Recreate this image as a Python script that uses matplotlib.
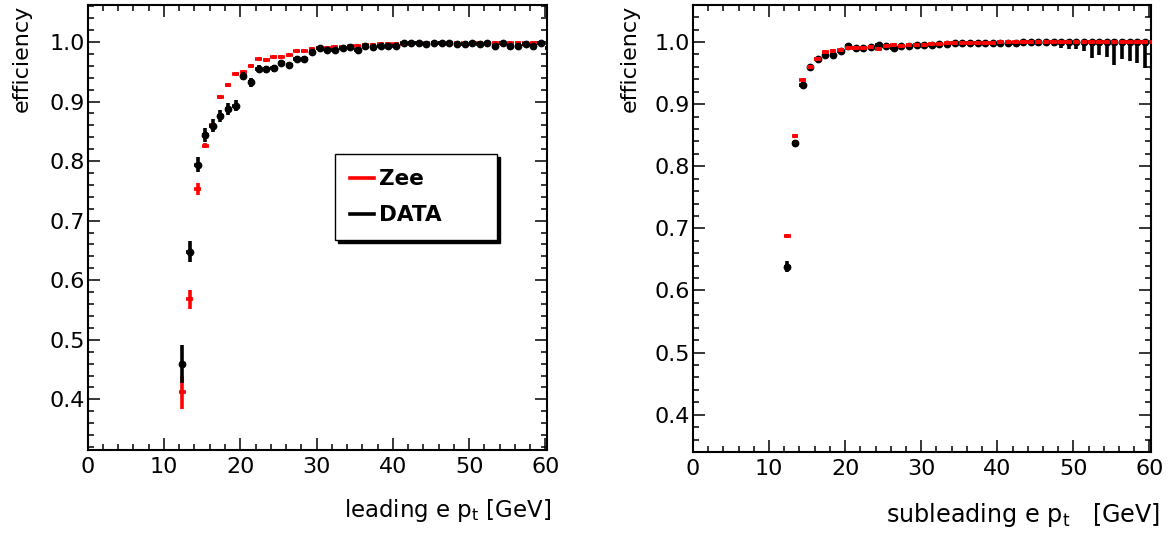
import numpy as np
import matplotlib
matplotlib.use("Agg")
import matplotlib.pyplot as plt
from matplotlib.lines import Line2D
from matplotlib.ticker import MultipleLocator, FormatStrFormatter

plt.rcParams["font.family"] = ["DejaVu Sans"]

# 1 GeV pt bins, lower edges 12 ... 60
pt_lo = np.arange(12, 61)
pt_centers = pt_lo + 0.4

# leading electron: trigger efficiency vs pt
lead_zee = [0.412, 0.568, 0.753, 0.826, 0.861, 0.908, 0.928, 0.947, 0.949, 0.960,
            0.971, 0.969, 0.974, 0.975, 0.978, 0.984, 0.985, 0.988, 0.990, 0.990,
            0.991, 0.992, 0.994, 0.994, 0.995, 0.995, 0.996, 0.996, 0.997, 0.997,
            0.998, 0.998, 0.998, 0.998, 0.999, 0.999, 0.998, 0.999, 0.999, 0.999,
            0.998, 0.999, 0.999, 0.999, 0.998, 0.999, 0.999, 0.999, 0.999]
lead_zee_err = [0.028, 0.016, 0.010, 0.004, 0.003, 0.003, 0.003, 0.002, 0.002, 0.002,
                0.002, 0.002, 0.002, 0.002, 0.002, 0.002, 0.002, 0.002, 0.001, 0.001,
                0.001, 0.001, 0.001, 0.001, 0.001, 0.001, 0.001, 0.001, 0.001, 0.001,
                0.001, 0.001, 0.001, 0.001, 0.001, 0.001, 0.001, 0.001, 0.001, 0.001,
                0.001, 0.001, 0.001, 0.001, 0.001, 0.001, 0.001, 0.001, 0.001]
lead_data = [0.460, 0.648, 0.794, 0.844, 0.859, 0.876, 0.887, 0.893, 0.943, 0.932,
             0.955, 0.954, 0.956, 0.964, 0.961, 0.972, 0.972, 0.983, 0.989, 0.987,
             0.986, 0.989, 0.992, 0.987, 0.993, 0.992, 0.994, 0.994, 0.994, 0.998,
             0.998, 0.998, 0.997, 0.999, 0.999, 0.999, 0.997, 0.997, 0.998, 0.997,
             0.998, 0.994, 0.998, 0.993, 0.994, 0.997, 0.994, 0.998, 0.990]
lead_data_err = [0.032, 0.018, 0.013, 0.012, 0.011, 0.010, 0.010, 0.009, 0.007, 0.008,
                 0.006, 0.006, 0.006, 0.005, 0.005, 0.005, 0.005, 0.004, 0.004, 0.004,
                 0.004, 0.004, 0.003, 0.004, 0.003, 0.003, 0.003, 0.003, 0.003, 0.002,
                 0.002, 0.002, 0.002, 0.001, 0.001, 0.001, 0.002, 0.002, 0.002, 0.002,
                 0.002, 0.003, 0.002, 0.003, 0.003, 0.003, 0.003, 0.002, 0.004]

# subleading electron: trigger efficiency vs pt
sub_zee = [0.688, 0.848, 0.939, 0.960, 0.973, 0.984, 0.985, 0.987, 0.991, 0.991,
           0.991, 0.992, 0.989, 0.993, 0.995, 0.994, 0.995, 0.996, 0.996, 0.997,
           0.997, 0.998, 0.998, 0.999, 0.999, 0.999, 0.999, 0.999, 1.000, 1.000,
           1.000, 1.000, 1.000, 1.000, 1.000, 1.000, 1.000, 1.000, 1.000, 1.000,
           1.000, 1.000, 1.000, 1.000, 1.000, 1.000, 1.000, 1.000, 1.000]
sub_zee_err = [0.003, 0.002, 0.002, 0.001, 0.001, 0.001, 0.001, 0.001, 0.001, 0.001,
               0.001, 0.001, 0.001, 0.001, 0.001, 0.001, 0.001, 0.001, 0.001, 0.001,
               0.001, 0.001, 0.001, 0.001, 0.001, 0.001, 0.001, 0.001, 0.000, 0.000,
               0.000, 0.000, 0.000, 0.000, 0.000, 0.000, 0.000, 0.000, 0.000, 0.000,
               0.000, 0.000, 0.000, 0.000, 0.000, 0.000, 0.000, 0.000, 0.000]
sub_data = [0.638, 0.837, 0.931, 0.959, 0.973, 0.979, 0.979, 0.986, 0.993, 0.990,
            0.990, 0.992, 0.996, 0.993, 0.991, 0.994, 0.993, 0.995, 0.996, 0.996,
            0.997, 0.997, 0.998, 0.998, 0.998, 0.999, 0.999, 0.999, 0.999, 0.999,
            0.999, 1.000, 1.000, 1.000, 1.000, 1.000, 1.000, 1.000, 1.000, 1.000,
            1.000, 1.000, 1.000, 1.000, 1.000, 1.000, 1.000, 1.000, 1.000]
sub_data_err_lo = [0.009, 0.006, 0.004, 0.003, 0.003, 0.002, 0.002, 0.002, 0.002, 0.002,
                   0.002, 0.002, 0.002, 0.002, 0.002, 0.002, 0.002, 0.002, 0.001, 0.001,
                   0.001, 0.001, 0.001, 0.001, 0.001, 0.001, 0.001, 0.001, 0.001, 0.001,
                   0.001, 0.001, 0.001, 0.002, 0.004, 0.007, 0.009, 0.011, 0.011, 0.015,
                   0.025, 0.021, 0.024, 0.037, 0.027, 0.031, 0.034, 0.042, 0.056]
sub_data_err_hi = [0.009, 0.006, 0.004, 0.003, 0.003, 0.002, 0.002, 0.002, 0.002, 0.002,
                   0.002, 0.002, 0.002, 0.002, 0.002, 0.002, 0.002, 0.002, 0.001, 0.001,
                   0.001, 0.001, 0.001, 0.001, 0.001, 0.001, 0.001, 0.001, 0.001, 0.001,
                   0.001, 0.000, 0.000, 0.000, 0.000, 0.000, 0.000, 0.000, 0.000, 0.000,
                   0.000, 0.000, 0.000, 0.000, 0.000, 0.000, 0.000, 0.000, 0.000]

XMAX = 60.2
FS = 16

fig = plt.figure(figsize=(11.69, 5.33), dpi=100)
ax_l = fig.add_axes([0.0750, 0.1557, 0.3929, 0.8349])
ax_r = fig.add_axes([0.5928, 0.1520, 0.3918, 0.8386])


def style_axes(ax, ymin, ymax):
    ax.set_xlim(0, XMAX)
    ax.set_ylim(ymin, ymax)
    ax.xaxis.set_major_locator(MultipleLocator(10))
    ax.xaxis.set_minor_locator(MultipleLocator(2))
    ax.yaxis.set_major_locator(MultipleLocator(0.1))
    ax.yaxis.set_minor_locator(MultipleLocator(0.02))
    ax.yaxis.set_major_formatter(FormatStrFormatter("%.1f"))
    ax.tick_params(which="both", direction="in", top=True, right=True,
                   width=1.1, labelsize=FS)
    ax.tick_params(which="major", length=8.6)
    ax.tick_params(which="minor", length=4.3)
    ax.tick_params(axis="x", which="major", pad=5)
    ax.tick_params(axis="y", which="major", pad=2)
    for sp in ax.spines.values():
        sp.set_linewidth(1.5)


def draw(ax, zee, zee_lo, zee_hi, dat, dat_lo, dat_hi, zee_on_top=False):
    ax.errorbar(pt_centers, zee, yerr=[zee_lo, zee_hi], xerr=0.45,
                fmt="s", ms=3, color="#ff0000", mew=0, elinewidth=2.6,
                capsize=0, zorder=4 if zee_on_top else 2)
    ax.errorbar(pt_centers, dat, yerr=[dat_lo, dat_hi], xerr=0.45,
                fmt="o", ms=5.6, color="black", mew=0, elinewidth=2.6,
                capsize=0, zorder=3)


style_axes(ax_l, 0.315, 1.062)
style_axes(ax_r, 0.340, 1.0596)

lead_data_hi = np.minimum(np.array(lead_data_err), 1.0 - np.array(lead_data))
lead_zee_hi = np.minimum(np.array(lead_zee_err), 1.0 - np.array(lead_zee))
draw(ax_l, lead_zee, lead_zee_err, lead_zee_hi, lead_data, lead_data_err, lead_data_hi)
draw(ax_r, sub_zee, sub_zee_err, sub_zee_err, sub_data, sub_data_err_lo, sub_data_err_hi,
     zee_on_top=True)

ax_l.set_ylabel("efficiency", loc="top", fontsize=FS)
ax_l.yaxis.set_label_coords(-0.121, 1.0)
ax_r.set_ylabel("efficiency", loc="top", fontsize=FS)
ax_r.yaxis.set_label_coords(-0.116, 1.0)

ax_l.set_xlabel(r"leading e p$_\mathregular{t}$ [GeV]", loc="right", fontsize=16.5)
ax_l.xaxis.set_label_coords(1.01, -0.105)
ax_r.set_xlabel(r"subleading e p$_\mathregular{t}$   [GeV]", loc="right", fontsize=17.2)
ax_r.xaxis.set_label_coords(1.0196, -0.110)

handles = [Line2D([], [], color="#ff0000", lw=2.6),
           Line2D([], [], color="black", lw=2.6)]
leg = ax_l.legend(handles, ["Zee", "DATA"], loc="upper left",
                  bbox_to_anchor=(0.538, 0.474, 0.353, 0.191), mode="expand",
                  frameon=True, fancybox=False,
                  shadow={"color": "black", "alpha": 1.0},
                  prop={"weight": "bold", "size": 15.5},
                  handlelength=1.1, handletextpad=0.25, labelspacing=0.75,
                  borderpad=0.7, borderaxespad=0.0)
leg.get_frame().set_edgecolor("black")
leg.get_frame().set_linewidth(1.0)
leg.set_zorder(5)

fig.savefig("out.png", dpi=100)
